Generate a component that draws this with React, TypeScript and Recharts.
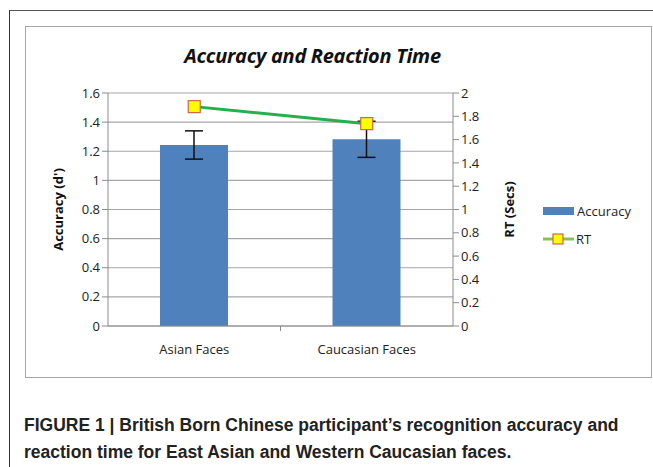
import React from "react";
import {
  ComposedChart,
  Bar,
  Line,
  XAxis,
  YAxis,
  CartesianGrid,
  ErrorBar,
} from "recharts";

const categories = ["Asian Faces", "Caucasian Faces"];
const accuracy = [1.243, 1.282];
const accuracyErr = [0.097, 0.124];
const rt = [1.883, 1.737];

const leftTicks = [0, 0.2, 0.4, 0.6, 0.8, 1, 1.2, 1.4, 1.6];
const rightTicks = [0, 0.2, 0.4, 0.6, 0.8, 1, 1.2, 1.4, 1.6, 1.8, 2];

const data = categories.map((name, i) => ({
  name,
  accuracy: accuracy[i],
  accErr: accuracyErr[i],
  rt: rt[i],
}));

const FONT = "'Open Sans', 'Noto Sans', sans-serif";
const CAPTION_FONT = "'Liberation Sans Narrow', 'Liberation Sans', Arial, sans-serif";

const SquareDot = (props: any) => {
  const { cx, cy } = props;
  if (cx == null || cy == null) return null;
  return (
    <rect
      x={cx - 6}
      y={cy - 6}
      width={12}
      height={12}
      fill="#ffff00"
      stroke="#d0654a"
      strokeWidth={1.2}
    />
  );
};

const fmt = (v: number) => String(Math.round(v * 10) / 10);

function LegendBox() {
  return (
    <div style={{ fontFamily: FONT, fontSize: 13, color: "#222" }}>
      <div style={{ display: "flex", alignItems: "center", height: 20 }}>
        <div style={{ width: 31, height: 8, background: "#4f81bd" }} />
        <span style={{ marginLeft: 3 }}>Accuracy</span>
      </div>
      <div style={{ display: "flex", alignItems: "center", height: 20, marginTop: 8 }}>
        <svg width={31} height={14}>
          <line x1={0} y1={7} x2={31} y2={7} stroke="#8cbf5a" strokeWidth={3} />
          <rect x={10} y={2} width={10} height={10} fill="#ffff00" stroke="#d0654a" strokeWidth={1.2} />
        </svg>
        <span style={{ marginLeft: 2 }}>RT</span>
      </div>
    </div>
  );
}

export default function App() {
  return (
    <div
      style={{
        position: "absolute",
        left: 0,
        top: 0,
        width: 653,
        height: 467,
        background: "#fff",
        overflow: "hidden",
      }}
    >
      {/* outer figure frame */}
      <div
        style={{
          position: "absolute",
          left: 9,
          top: 10,
          width: 660,
          height: 470,
          borderLeft: "1.5px solid #333",
          borderTop: "1.5px solid #555",
        }}
      />
      {/* chart area frame */}
      <div
        style={{
          position: "absolute",
          left: 25,
          top: 26,
          width: 625,
          height: 350,
          border: "1.5px solid #a6a6a6",
        }}
      />
      <div
        style={{
          position: "absolute",
          left: 0,
          width: 625,
          top: 42,
          textAlign: "center",
          fontFamily: FONT,
          fontSize: 20,
          fontWeight: 700,
          fontStyle: "italic",
          letterSpacing: -0.3,
          color: "#111",
        }}
      >
        Accuracy and Reaction Time
      </div>
      <div style={{ position: "absolute", left: 0, top: 0 }}>
        <ComposedChart
          width={653}
          height={467}
          data={data}
          margin={{ top: 93, right: 130, bottom: 111, left: 0 }}
        >
          <CartesianGrid vertical={false} stroke="#a6a6a6" strokeWidth={1.2} yAxisId="left" />
          <XAxis
            dataKey="name"
            stroke="#8c8c8c"
            tick={{ fill: "#222", fontSize: 13, fontFamily: FONT }}
            tickLine={false}
            height={30}
            tickMargin={13}
          />
          <YAxis
            yAxisId="left"
            orientation="left"
            domain={[0, 1.6]}
            ticks={leftTicks}
            width={108}
            stroke="#8c8c8c"
            tickSize={6}
            tickFormatter={fmt}
            tick={{ fill: "#222", fontSize: 13, fontFamily: FONT }}
            label={{
              value: "Accuracy (d')",
              angle: -90,
              position: "insideLeft",
              offset: 58,
              style: { fontFamily: FONT, fontSize: 13, fontWeight: 700, fill: "#111", textAnchor: "middle" },
            }}
          />
          <YAxis
            yAxisId="right"
            orientation="right"
            domain={[0, 2]}
            ticks={rightTicks}
            width={70}
            stroke="#8c8c8c"
            tickSize={6}
            tickFormatter={fmt}
            tick={{ fill: "#222", fontSize: 13, fontFamily: FONT }}
            label={{
              value: "RT (Secs)",
              angle: -90,
              position: "insideRight",
              offset: 14,
              style: { fontFamily: FONT, fontSize: 13, fontWeight: 700, fill: "#111", textAnchor: "middle" },
            }}
          />
          <Bar
            yAxisId="left"
            dataKey="accuracy"
            name="Accuracy"
            fill="#4f81bd"
            barSize={68}
            isAnimationActive={false}
          >
            <ErrorBar dataKey="accErr" width={9} stroke="#111" strokeWidth={1.5} />
          </Bar>
          <Line
            yAxisId="right"
            dataKey="rt"
            name="RT"
            stroke="#22b14c"
            strokeWidth={3}
            dot={<SquareDot />}
            activeDot={false}
            isAnimationActive={false}
          />
        </ComposedChart>
      </div>
      {/* legend */}
      <div style={{ position: "absolute", left: 543, top: 201 }}>
        <LegendBox />
      </div>
      {/* category divider tick on x-axis */}
      <div
        style={{
          position: "absolute",
          left: 280,
          top: 326,
          width: 1,
          height: 5,
          background: "#8c8c8c",
        }}
      />
      <div
        style={{
          position: "absolute",
          left: 24,
          top: 412,
          width: 620,
          fontFamily: CAPTION_FONT,
          fontSize: 17.5,
          fontWeight: 700,
          lineHeight: "27px",
          color: "#222",
        }}
      >
        FIGURE 1 | British Born Chinese participant’s recognition accuracy and
        <br />
        reaction time for East Asian and Western Caucasian faces.
      </div>
    </div>
  );
}
